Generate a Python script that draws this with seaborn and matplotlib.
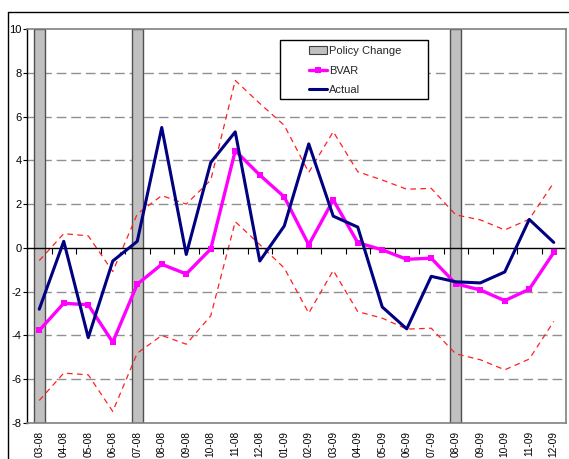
import matplotlib
matplotlib.use("Agg")
import matplotlib.pyplot as plt
from matplotlib import font_manager
from matplotlib.patches import Patch, Rectangle
from matplotlib.lines import Line2D
import seaborn as sns
import pandas as pd
import numpy as np

# ---- data -------------------------------------------------------------
months = ["03-08", "04-08", "05-08", "06-08", "07-08", "08-08", "09-08",
          "10-08", "11-08", "12-08", "01-09", "02-09", "03-09", "04-09",
          "05-09", "06-09", "07-09", "08-09", "09-09", "10-09", "11-09",
          "12-09"]
actual = [-2.8, 0.3, -4.1, -0.6, 0.3, 5.5, -0.3, 3.9, 5.3, -0.6, 1.0,
          4.75, 1.45, 0.95, -2.7, -3.7, -1.3, -1.55, -1.6, -1.1, 1.3, 0.25]
bvar = [-3.77, -2.53, -2.6, -4.31, -1.66, -0.75, -1.19, -0.05, 4.44, 3.33,
        2.33, 0.14, 2.19, 0.24, -0.09, -0.52, -0.47, -1.64, -1.92, -2.41,
        -1.89, -0.21]
upper = [-0.58, 0.65, 0.55, -1.08, 1.55, 2.39, 2.0, 3.1, 7.65, 6.6, 5.6,
         3.45, 5.31, 3.48, 3.1, 2.68, 2.72, 1.51, 1.28, 0.82, 1.31, 2.98]
lower = [-6.97, -5.72, -5.8, -7.47, -4.81, -4.0, -4.4, -3.1, 1.2, 0.15,
         -0.92, -2.98, -1.03, -2.91, -3.21, -3.71, -3.67, -4.84, -5.11,
         -5.57, -5.08, -3.36]
policy_months = ["03-08", "07-08", "08-09"]
y_ticks = [-8, -6, -4, -2, 0, 2, 4, 6, 8, 10]

# ---- style ------------------------------------------------------------
sns.set_theme(style="white")
names = {f.name for f in font_manager.fontManager.ttflist}
if "Liberation Sans Narrow" in names:
    family, ytick_fs, xtick_fs, leg_fs = "Liberation Sans Narrow", 9.5, 8.8, 9.6
else:
    family, ytick_fs, xtick_fs, leg_fs = "Liberation Sans", 8.0, 7.3, 8.0
plt.rcParams["font.family"] = [family, "DejaVu Sans"]

W, H = 569, 459
fig = plt.figure(figsize=(W / 100, H / 100), dpi=100)
fig.patch.set_facecolor("white")

# plot area in pixel coordinates
left, right, top, bottom = 27, 566, 29, 423
ax = fig.add_axes([left / W, 1 - bottom / H, (right - left) / W, (bottom - top) / H])

df = pd.DataFrame({"pos": np.arange(len(months)), "month": months,
                   "Actual": actual, "BVAR": bvar,
                   "upper": upper, "lower": lower})

ymin, ymax = y_ticks[0], y_ticks[-1]

# dashed gridlines
for v in y_ticks[1:-1]:
    if v == 0:
        continue
    ax.axhline(v, color="#909090", lw=1.0, ls=(0, (7, 3.5)), zorder=0)

# policy-change shading bars
pol_idx = [months.index(m) for m in policy_months]
ax.bar(pol_idx, [ymax - ymin] * len(pol_idx), bottom=ymin, width=0.44,
       color="#c0c0c0", edgecolor="#505050", linewidth=1.0, zorder=1)

# confidence band
sns.lineplot(data=df, x="pos", y="upper", ax=ax, color="#ff2020", lw=0.9,
             linestyle=(0, (4.5, 3.5)), sort=False, zorder=2)
sns.lineplot(data=df, x="pos", y="lower", ax=ax, color="#ff2020", lw=0.9,
             linestyle=(0, (4.5, 3.5)), sort=False, zorder=2)

# zero line
ax.axhline(0, color="black", lw=1.0, zorder=2)

sns.lineplot(data=df, x="pos", y="BVAR", ax=ax, color="#ff00ff", lw=2.4,
             marker="s", markersize=5, markeredgewidth=0, sort=False, zorder=3)
sns.lineplot(data=df, x="pos", y="Actual", ax=ax, color="#000080", lw=2.2,
             sort=False, zorder=4)

ax.set_xlim(-0.5, len(months) - 0.5)
ax.set_ylim(ymin, ymax)
ax.set_xlabel("")
ax.set_ylabel("")

ax.set_yticks(y_ticks)
ax.set_yticklabels([str(v) for v in y_ticks], fontsize=ytick_fs)
ax.tick_params(axis="y", direction="out", length=3, width=0.8, pad=1,
               colors="black", left=True)

ax.set_xticks(df["pos"])
ax.set_xticklabels(months, rotation=90, fontsize=xtick_fs, va="top", ha="center")
ax.tick_params(axis="x", length=0, pad=5.5, colors="black")

# plot area frame
ax.spines["left"].set_color("black")
ax.spines["left"].set_linewidth(1.0)
for s in ("top", "right", "bottom"):
    ax.spines[s].set_color("#808080")
    ax.spines[s].set_linewidth(1.2)
    ax.spines[s].set_visible(True)

# tick marks on the zero line between categories
zero_frac = (0 - ymin) / (ymax - ymin)
sec = ax.secondary_xaxis(zero_frac)
sec.set_xticks(np.arange(len(months) - 1) + 0.5)
sec.set_xticklabels([])
sec.tick_params(direction="out", length=4, width=0.8, colors="black")
sec.spines["bottom"].set_visible(False)

# legend
fig.add_artist(Rectangle((280 / W, 1 - 99 / H), 148 / W, 59 / H,
                         transform=fig.transFigure, facecolor="white",
                         edgecolor="black", lw=1.0, zorder=5))
handles = [Patch(facecolor="#c0c0c0", edgecolor="#404040", lw=0.8),
           Line2D([], [], color="#ff00ff", lw=2.4, marker="s", markersize=5,
                  markeredgewidth=0),
           Line2D([], [], color="#000080", lw=2.2)]
leg = fig.legend(handles, ["Policy Change", "BVAR", "Actual"],
                 loc="upper left", bbox_to_anchor=(307 / W, 1 - 43.5 / H),
                 frameon=False, fontsize=leg_fs, handlelength=1.6,
                 handleheight=0.7, handletextpad=0.15, labelspacing=0.88,
                 borderpad=0.2, borderaxespad=0)
leg.set_zorder(6)

# outer chart border
fig.add_artist(Line2D([8 / W, 8 / W], [0, 1 - 12 / H], transform=fig.transFigure,
                      color="black", lw=1.0))
fig.add_artist(Line2D([8 / W, 1], [1 - 12 / H, 1 - 12 / H], transform=fig.transFigure,
                      color="black", lw=1.0))

fig.savefig("out.png", dpi=100)
